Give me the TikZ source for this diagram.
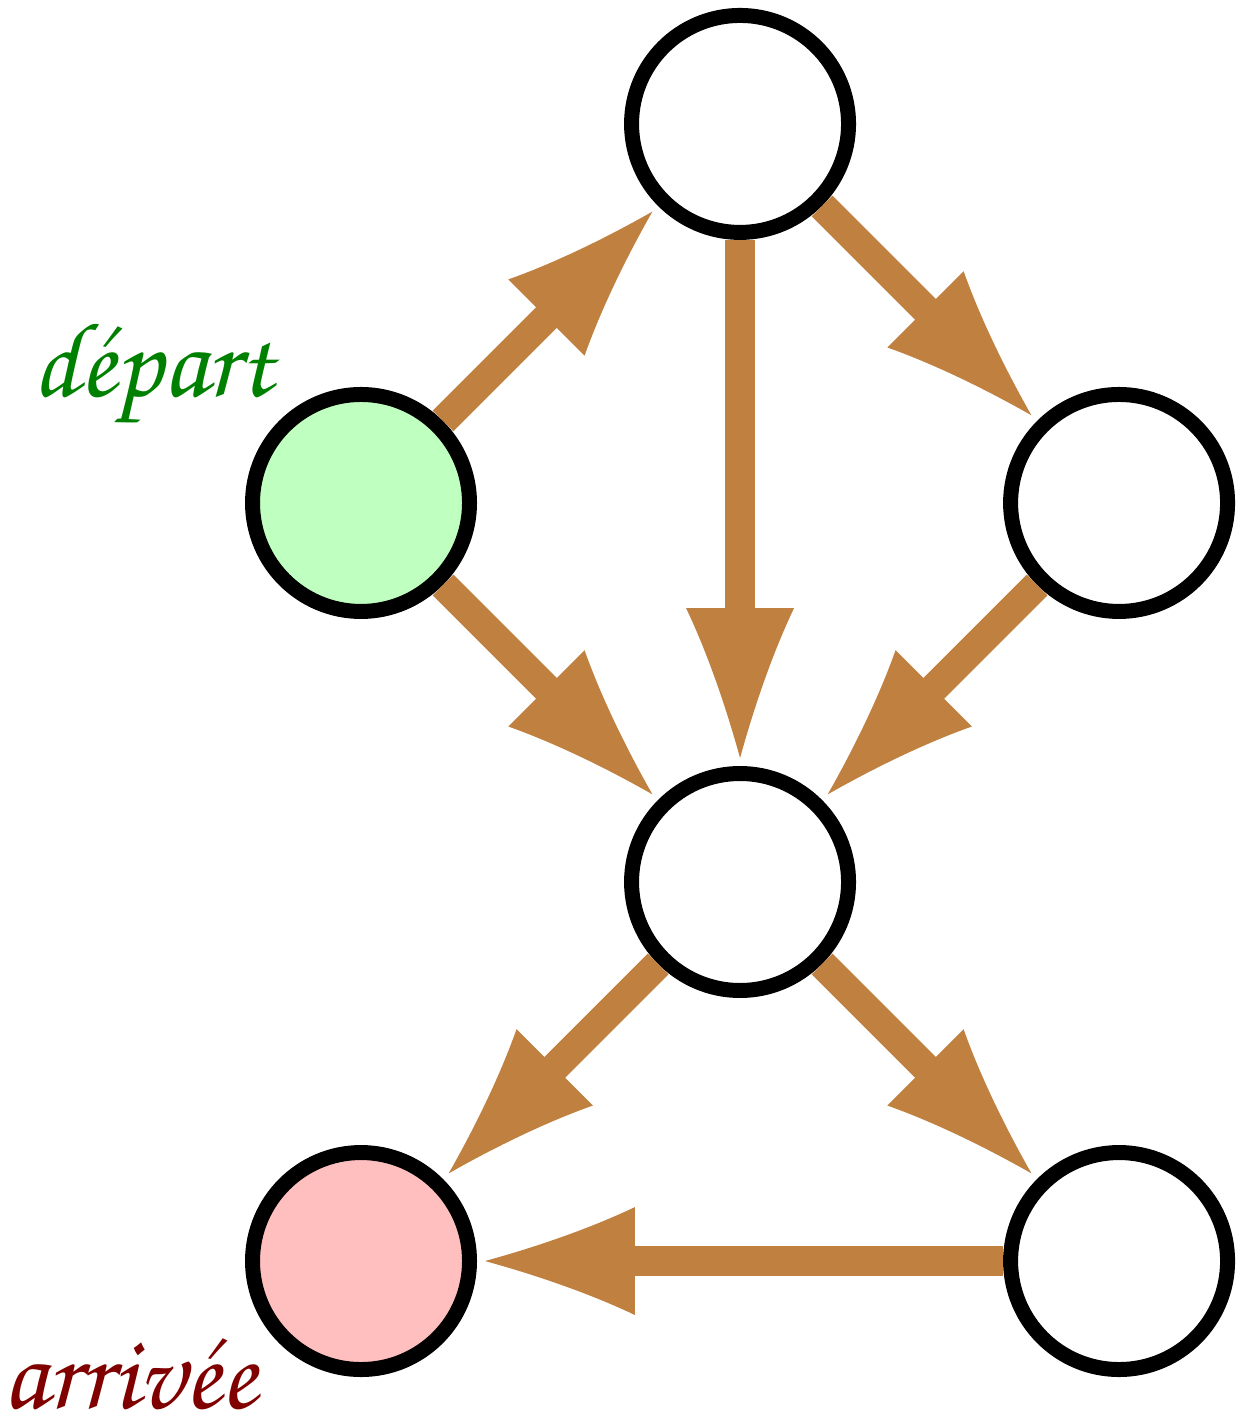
\documentclass[tikz,border=0pt]{standalone}
\usepackage[T1,TU]{fontenc}
\usetikzlibrary{arrows.meta,automata,positioning}

% script face for the two labels
\newcommand{\scriptface}{\fontencoding{T1}\fontfamily{pzc}\fontseries{mb}\fontshape{it}\fontsize{16}{18}\selectfont}

% arrow tip with slightly hollow sides
\pgfdeclarearrow{
  name = Flare,
  setup code = {
    \pgfarrowssettipend{0pt}
    \pgfarrowssetbackend{-22.5pt}
    \pgfarrowssetvisualbackend{-22.5pt}
    \pgfarrowssetlineend{-19pt}
  },
  drawing code = {
    \pgfpathmoveto{\pgfqpoint{0pt}{0pt}}
    \pgfpathcurveto{\pgfqpoint{-8pt}{2.2pt}}{\pgfqpoint{-16pt}{5pt}}{\pgfqpoint{-22.5pt}{8.1pt}}
    \pgfpathlineto{\pgfqpoint{-22.5pt}{-8.1pt}}
    \pgfpathcurveto{\pgfqpoint{-16pt}{-5pt}}{\pgfqpoint{-8pt}{-2.2pt}}{\pgfqpoint{0pt}{0pt}}
    \pgfpathclose
    \pgfusepathqfill
  }
}

\begin{document}
\begin{tikzpicture}[on grid,
    state/.append style={line width=2.25pt,
      minimum size=1.145cm,
      inner sep=0pt,
      draw=black,
      fill=white}]
      \useasboundingbox (-3.905,-2.881) rectangle (2.633,4.654);
      % Add the states
      \node[state] (m) {};
      \node[state,
        above=4cm of m] (t) {};
      \node[state,
        above left=2cm and 2cm of m,
        fill=green!25] (s) {};
      \node[state,
        above right=2cm and 2cm of m] (r) {};
      \node[state,
        below left=2cm and 2cm of m,
        fill=red!25] (f) {};
      \node[state,
        below right=2cm and 2cm of m] (v) {};
      % Start and end labels
      \node[text=green!50!black,
        font=\scriptface,
        inner sep=0pt,
        anchor=base] (dep) at (-3.10,2.56) {d\'epart};
      \node[text=red!50!black,
        font=\scriptface,
        inner sep=0pt,
        anchor=base] (arr) at (-3.22,-2.78) {arriv\'ee};
      % Connect the states with arrows
      \draw[line width=4.4pt,
        color=brown,
        -{Flare},
        shorten >=1.2pt]
      (s) edge (t)
      (t) edge (m)
      (t) edge (r)
      (s) edge (m)
      (r) edge (m)
      (m) edge (f)
      (m) edge (v)
      (v) edge (f);
    \end{tikzpicture}
\end{document}
